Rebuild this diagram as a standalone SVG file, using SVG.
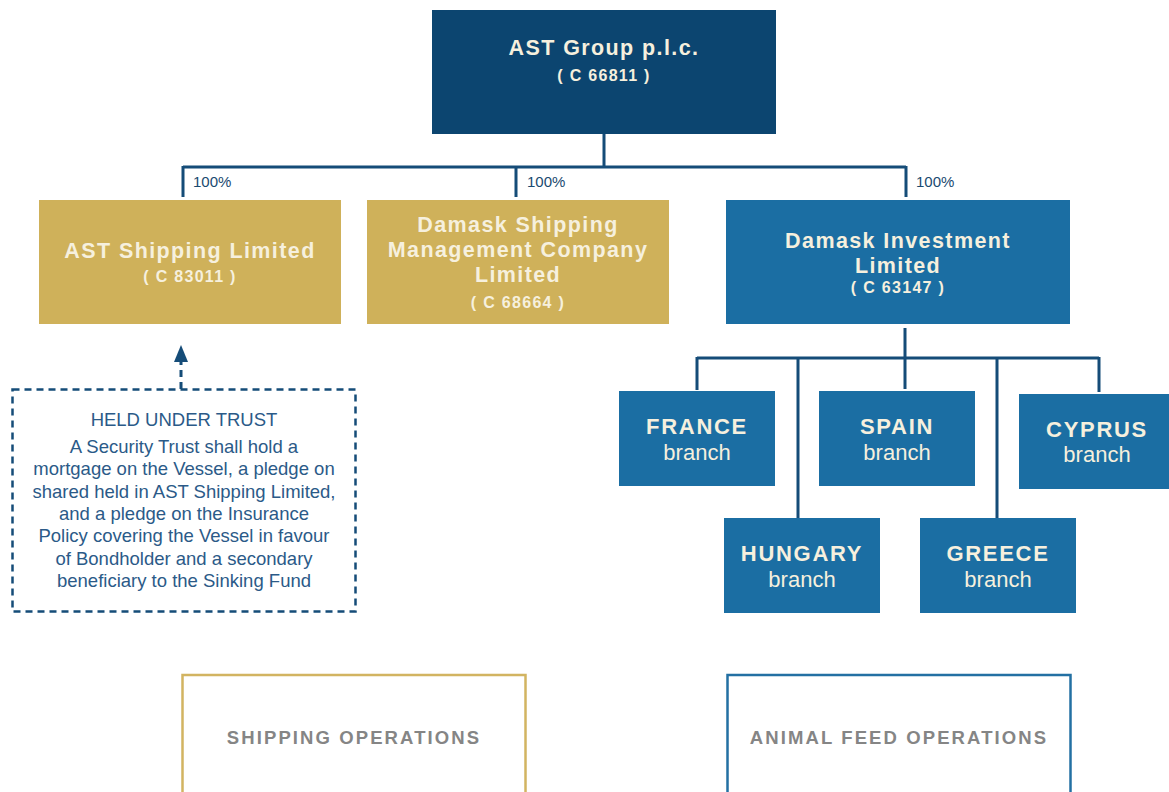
<svg xmlns="http://www.w3.org/2000/svg" width="1169" height="792" viewBox="0 0 1169 792">
<style>
.dark{fill:#0c4570}
.gold{fill:#cfb15a}
.blue{fill:#1b6ea3}
.t{font-family:"Liberation Sans",Arial,sans-serif;fill:#f6f0de;text-anchor:middle}
.h{font-weight:bold;font-size:21.5px;letter-spacing:1.4px}
.s{font-weight:bold;font-size:16px;letter-spacing:1.3px}
.c{font-weight:bold;font-size:22px;letter-spacing:1.7px}
.br{font-size:22px}
.pct{font-family:"Liberation Sans",Arial,sans-serif;font-size:15px;fill:#1a4a70}
.note{font-family:"Liberation Sans",Arial,sans-serif;font-size:18.5px;fill:#2b5a88;text-anchor:middle}
.op{font-family:"Liberation Sans",Arial,sans-serif;font-weight:bold;font-size:18.5px;fill:#858585;text-anchor:middle;letter-spacing:2.1px}
.ln{stroke:#154c78;stroke-width:3;fill:none}
</style>
<rect width="1169" height="792" fill="#ffffff"/>
<g id="connectors">
<path class="ln" d="M604,134 V167 M183,167 H906 M183,166 V197 M516,166 V197 M906,166 V197"/>
<path class="ln" d="M905,328 V358 M697,358 H1099 M697,357 V390 M798,357 V518 M905,357 V389 M997,357 V518 M1099,357 V392"/>
<path d="M181,389 V358" stroke="#154c78" stroke-width="3" stroke-dasharray="7,5" fill="none"/>
<path d="M174,362 L181,345 L188,362 Z" fill="#154c78"/>
<text class="pct" x="193" y="187">100%</text>
<text class="pct" x="527" y="187">100%</text>
<text class="pct" x="916" y="187">100%</text>
</g>
<g id="ast-group">
<rect class="dark" x="432" y="10" width="344" height="124"/>
<text class="t h" x="604" y="55">AST Group p.l.c.</text>
<text class="t s" x="604" y="81">( C 66811 )</text>
</g>
<g id="ast-shipping">
<rect class="gold" x="39" y="200" width="302" height="124"/>
<text class="t h" x="190" y="258">AST Shipping Limited</text>
<text class="t s" x="190" y="282">( C 83011 )</text>
</g>
<g id="damask-shipping">
<rect class="gold" x="367" y="200" width="302" height="124"/>
<text class="t h" x="518" y="232">Damask Shipping</text>
<text class="t h" x="518" y="257">Management Company</text>
<text class="t h" x="518" y="282">Limited</text>
<text class="t s" x="518" y="308">( C 68664 )</text>
</g>
<g id="damask-investment">
<rect class="blue" x="726" y="200" width="344" height="124"/>
<text class="t h" x="898" y="248">Damask Investment</text>
<text class="t h" x="898" y="273">Limited</text>
<text class="t s" x="898" y="293">( C 63147 )</text>
</g>
<g id="france">
<rect class="blue" x="619" y="391" width="156" height="95"/>
<text class="t c" x="697" y="434">FRANCE</text>
<text class="t br" x="697" y="460">branch</text>
</g>
<g id="spain">
<rect class="blue" x="819" y="391" width="156" height="95"/>
<text class="t c" x="897" y="434">SPAIN</text>
<text class="t br" x="897" y="460">branch</text>
</g>
<g id="cyprus">
<rect class="blue" x="1019" y="394" width="150" height="95"/>
<text class="t c" x="1097" y="437">CYPRUS</text>
<text class="t br" x="1097" y="462">branch</text>
</g>
<g id="hungary">
<rect class="blue" x="724" y="518" width="156" height="95"/>
<text class="t c" x="802" y="561">HUNGARY</text>
<text class="t br" x="802" y="587">branch</text>
</g>
<g id="greece">
<rect class="blue" x="920" y="518" width="156" height="95"/>
<text class="t c" x="998" y="561">GREECE</text>
<text class="t br" x="998" y="587">branch</text>
</g>
<g id="trust-note">
<rect x="12.5" y="389.5" width="343" height="222" fill="none" stroke="#154c78" stroke-width="2.5" stroke-dasharray="7,5"/>
<text class="note" x="184" y="426">HELD UNDER TRUST</text>
<text class="note" x="184" y="453">A Security Trust shall hold a</text>
<text class="note" x="184" y="475">mortgage on the Vessel, a pledge on</text>
<text class="note" x="184" y="498">shared held in AST Shipping Limited,</text>
<text class="note" x="184" y="520">and a pledge on the Insurance</text>
<text class="note" x="184" y="542">Policy covering the Vessel in favour</text>
<text class="note" x="184" y="565">of Bondholder and a secondary</text>
<text class="note" x="184" y="587">beneficiary to the Sinking Fund</text>
</g>
<g id="shipping-operations">
<rect x="182.5" y="675" width="343" height="130" fill="none" stroke="#d2b461" stroke-width="2.5"/>
<text class="op" x="354" y="744">SHIPPING OPERATIONS</text>
</g>
<g id="animal-feed-operations">
<rect x="727.5" y="675" width="343" height="130" fill="none" stroke="#2370a3" stroke-width="2.5"/>
<text class="op" x="899" y="744">ANIMAL FEED OPERATIONS</text>
</g>
</svg>
